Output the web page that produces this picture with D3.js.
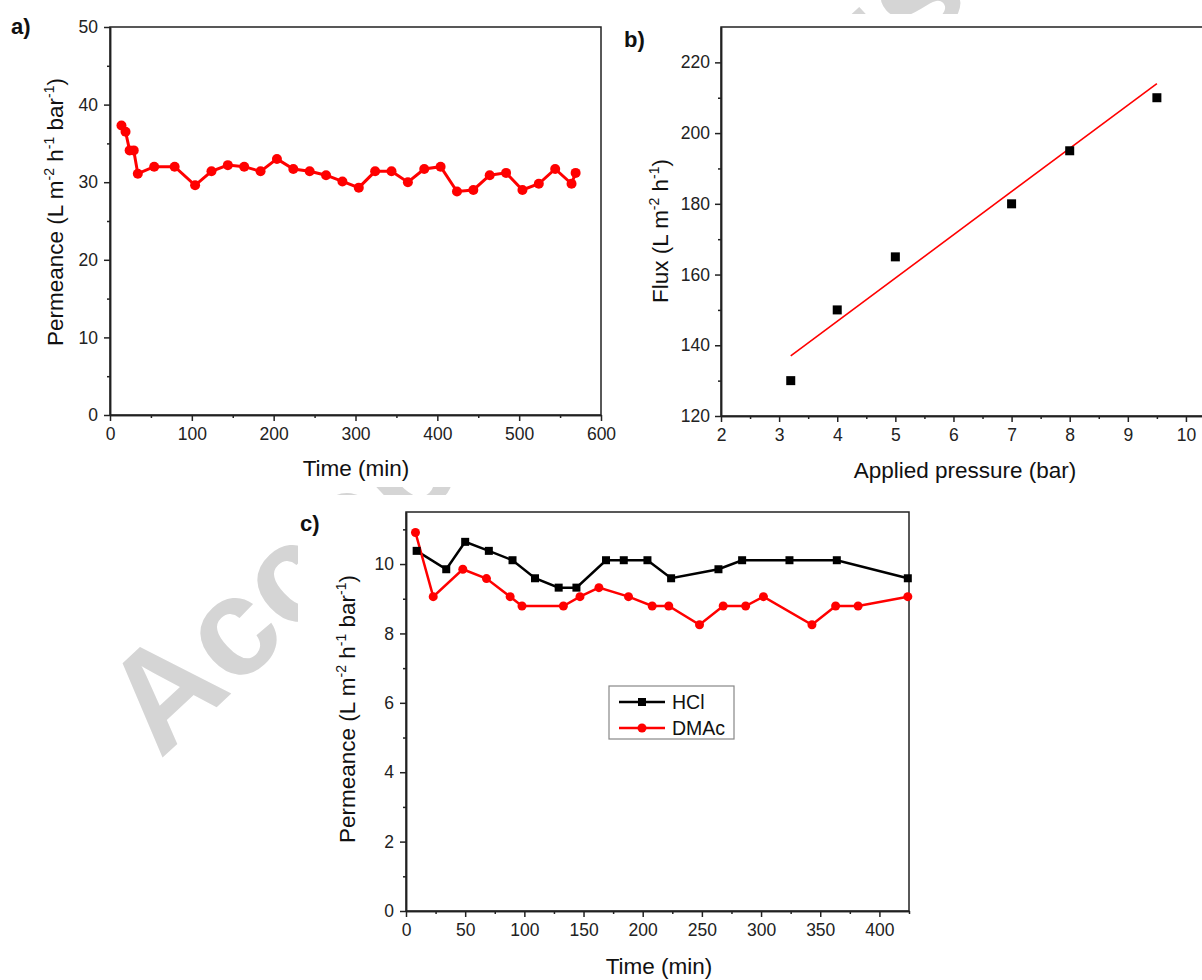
<!DOCTYPE html>
<html>
<head>
<meta charset="utf-8">
<script src="https://cdnjs.cloudflare.com/ajax/libs/d3/7.8.5/d3.min.js"></script>
<style>
  body { margin: 0; background: #fff; }
  svg { display: block; font-family: Arial, "Liberation Sans", sans-serif; }
  .axis path, .axis line { stroke: #222; stroke-width: 1.5; }
  .axis text { font-size: 17.5px; fill: #222; font-family: Arial, "Liberation Sans", sans-serif; }
</style>
</head>
<body>
<div></div>
<script>
//size of the whole picture
var width = 1202;
var height = 980;

//panel a: permeance over time
var timeA = [14, 19, 24, 29, 34, 54, 79, 104, 124, 144, 164, 184, 204, 224, 244, 264,
             284, 304, 324, 344, 364, 384, 404, 424, 444, 464, 484, 504, 524, 544, 564, 569];
var permA = [37.3, 36.5, 34.1, 34.1, 31.1, 32.0, 32.0, 29.6, 31.4, 32.2, 32.0, 31.4, 33.0, 31.7, 31.4, 30.9,
             30.1, 29.3, 31.4, 31.4, 30.0, 31.7, 32.0, 28.8, 29.0, 30.9, 31.2, 29.0, 29.8, 31.7, 29.8, 31.2];
var xTicksA = [0, 100, 200, 300, 400, 500, 600];
var yTicksA = [0, 10, 20, 30, 40, 50];

//panel b: flux against applied pressure, with its linear fit
var pressureB = [3.2, 4, 5, 7, 8, 9.5];
var fluxB = [130, 150, 165, 180, 195, 210];
var fitPressure = [3.2, 9.5];
var fitFlux = [137, 214];
var xTicksB = [2, 3, 4, 5, 6, 7, 8, 9, 10];
var yTicksB = [120, 140, 160, 180, 200, 220];

//panel c: permeance over time for two solvents
var timeHCl = [9, 34, 50, 70, 90, 109, 129, 144, 169, 184, 204, 224, 264, 284, 324, 364, 424];
var permHCl = [10.38, 9.85, 10.64, 10.38, 10.11, 9.59, 9.32, 9.32, 10.11, 10.11, 10.11, 9.59, 9.85, 10.11, 10.11, 10.11, 9.59];
var timeDMAc = [8, 23, 48, 68, 88, 98, 133, 147, 163, 188, 208, 222, 248, 268, 287, 302, 343, 363, 382, 424];
var permDMAc = [10.91, 9.06, 9.85, 9.58, 9.06, 8.79, 8.79, 9.06, 9.32, 9.06, 8.79, 8.79, 8.25, 8.79, 8.79, 9.06, 8.25, 8.79, 8.79, 9.06];
var legendNames = ["HCl", "DMAc"];
var xTicksC = [0, 50, 100, 150, 200, 250, 300, 350, 400];
var yTicksC = [0, 2, 4, 6, 8, 10];

var svg = d3.select("div")
            .append("svg")
            .attr("width", width)
            .attr("height", height);

svg.append("rect").attr("width", width).attr("height", height).attr("fill", "#fff");

//the grey watermark, mostly hidden behind the panels
svg.append("text")
   .text("Accepted Manuscript")
   .attr("transform", "translate(160,760) rotate(-43)")
   .style("font-size", "140px")
   .style("font-weight", "bold")
   .style("fill", "#d5d5d5");

//white backgrounds of the three panels
svg.append("rect").attr("x", 0).attr("y", 0).attr("width", 612).attr("height", 487).attr("fill", "#fff");
svg.append("rect").attr("x", 606).attr("y", 14).attr("width", 600).attr("height", 476).attr("fill", "#fff");
svg.append("rect").attr("x", 298).attr("y", 495).attr("width", 640).attr("height", 490).attr("fill", "#fff");

//zip two arrays into points
function pairs(xs, ys) {
  return xs.map(function(x, i) { return {x: x, y: ys[i]}; });
}

//minor ticks halfway between the major ones
function halfway(ticks) {
  var out = [];
  for (var i = 0; i < ticks.length - 1; ++i) out.push((ticks[i] + ticks[i + 1]) / 2);
  return out;
}

//axes with major and minor ticks plus the box
function drawAxes(xScale, yScale, xTicks, yTicks, xMinor, yMinor, yPad) {
  var x0 = xScale.range()[0], x1 = xScale.range()[1];
  var y0 = yScale.range()[0], y1 = yScale.range()[1];

  svg.append("g").attr("class", "axis")
     .attr("transform", "translate(0," + y0 + ")")
     .call(d3.axisBottom(xScale).tickValues(xMinor).tickSize(3).tickSizeOuter(0).tickFormat(""));
  svg.append("g").attr("class", "axis")
     .attr("transform", "translate(" + x0 + ",0)")
     .call(d3.axisLeft(yScale).tickValues(yMinor).tickSize(3).tickSizeOuter(0).tickFormat(""));

  svg.append("g").attr("class", "axis")
     .attr("transform", "translate(0," + y0 + ")")
     .call(d3.axisBottom(xScale).tickValues(xTicks).tickSize(6).tickSizeOuter(0).tickPadding(7));
  svg.append("g").attr("class", "axis")
     .attr("transform", "translate(" + x0 + ",0)")
     .call(d3.axisLeft(yScale).tickValues(yTicks).tickSize(6).tickSizeOuter(0).tickPadding(yPad));

  svg.append("rect")
     .attr("x", x0).attr("y", y1)
     .attr("width", x1 - x0).attr("height", y0 - y1)
     .attr("fill", "none")
     .attr("stroke", "#222")
     .attr("stroke-width", 1.5);
}

//axis title, parts marked with ^ are superscripts
function addTitle(x, y, rotate, parts) {
  var t = svg.append("text")
             .attr("transform", "translate(" + x + "," + y + ")" + (rotate ? " rotate(-90)" : ""))
             .style("text-anchor", "middle")
             .style("font-size", "22.5px")
             .style("fill", "#111");
  var up = false;
  parts.forEach(function(p) {
    var sup = p.charAt(0) == "^";
    var s = t.append("tspan").text(sup ? p.slice(1) : p);
    if (sup) {
      s.attr("dy", -9).style("font-size", "14px");
      up = true;
    } else if (up) {
      s.attr("dy", 9);
      up = false;
    }
  });
}

function panelLabel(x, y, txt) {
  svg.append("text")
     .text(txt)
     .attr("x", x).attr("y", y)
     .style("font-size", "22px")
     .style("font-weight", "bold")
     .style("fill", "#111");
}

// ---------- panel a ----------
var xA = d3.scaleLinear().domain([0, 600]).range([110, 601]);
var yA = d3.scaleLinear().domain([0, 50]).range([415, 27]);
drawAxes(xA, yA, xTicksA, yTicksA, halfway(xTicksA), halfway(yTicksA), 6);

var lineA = d3.line().x(function(d) { return xA(d.x); }).y(function(d) { return yA(d.y); });
svg.append("path")
   .datum(pairs(timeA, permA))
   .attr("d", lineA)
   .attr("fill", "none")
   .attr("stroke", "#ff0000")
   .attr("stroke-width", 3);
svg.selectAll("circle.a")
   .data(pairs(timeA, permA))
   .enter()
   .append("circle")
   .attr("class", "a")
   .attr("cx", function(d) { return xA(d.x); })
   .attr("cy", function(d) { return yA(d.y); })
   .attr("r", 5)
   .attr("fill", "#ff0000");

addTitle(356, 476, false, ["Time (min)"]);
addTitle(63, 212, true, ["Permeance (L m", "^-2", " h", "^-1", " bar", "^-1", ")"]);
panelLabel(11, 34, "a)");

// ---------- panel b ----------
var xB = d3.scaleLinear().domain([2, 10.5]).range([721, 1215]);
var yB = d3.scaleLinear().domain([120, 230]).range([416, 27]);
drawAxes(xB, yB, xTicksB, yTicksB, halfway(xTicksB).concat([10.5]), halfway(yTicksB), 5);

svg.append("path")
   .datum(pairs(fitPressure, fitFlux))
   .attr("d", d3.line().x(function(d) { return xB(d.x); }).y(function(d) { return yB(d.y); }))
   .attr("fill", "none")
   .attr("stroke", "#ff0000")
   .attr("stroke-width", 1.6);
svg.selectAll("rect.b")
   .data(pairs(pressureB, fluxB))
   .enter()
   .append("rect")
   .attr("class", "b")
   .attr("x", function(d) { return xB(d.x) - 4.5; })
   .attr("y", function(d) { return yB(d.y) - 4.5; })
   .attr("width", 9).attr("height", 9)
   .attr("fill", "#000");

addTitle(965, 478, false, ["Applied pressure (bar)"]);
addTitle(668, 231, true, ["Flux (L m", "^-2", " h", "^-1", ")"]);
panelLabel(624, 47, "b)");

// ---------- panel c ----------
var xC = d3.scaleLinear().domain([0, 425]).range([406, 909]);
var yC = d3.scaleLinear().domain([0, 11.5]).range([911, 512]);
drawAxes(xC, yC, xTicksC, yTicksC, halfway(xTicksC).concat([425]), d3.range(1, 12, 2), 6);

var lineC = d3.line().x(function(d) { return xC(d.x); }).y(function(d) { return yC(d.y); });
var hcl = pairs(timeHCl, permHCl);
var dmac = pairs(timeDMAc, permDMAc);

svg.append("path").datum(hcl).attr("d", lineC)
   .attr("fill", "none").attr("stroke", "#000").attr("stroke-width", 2.5);
svg.append("path").datum(dmac).attr("d", lineC)
   .attr("fill", "none").attr("stroke", "#ff0000").attr("stroke-width", 2.5);

svg.selectAll("rect.hcl")
   .data(hcl)
   .enter()
   .append("rect")
   .attr("class", "hcl")
   .attr("x", function(d) { return xC(d.x) - 4; })
   .attr("y", function(d) { return yC(d.y) - 4; })
   .attr("width", 8).attr("height", 8)
   .attr("fill", "#000");
svg.selectAll("circle.dmac")
   .data(dmac)
   .enter()
   .append("circle")
   .attr("class", "dmac")
   .attr("cx", function(d) { return xC(d.x); })
   .attr("cy", function(d) { return yC(d.y); })
   .attr("r", 4.5)
   .attr("fill", "#ff0000");

//legend
var legend = svg.append("g").attr("transform", "translate(609,686)");
legend.append("rect")
      .attr("width", 125).attr("height", 53)
      .attr("fill", "#fff")
      .attr("stroke", "#888")
      .attr("stroke-width", 1.2);
var legendColors = ["#000", "#ff0000"];
legendNames.forEach(function(name, i) {
  var ly = 16 + i * 26;
  legend.append("line")
        .attr("x1", 10).attr("x2", 56).attr("y1", ly).attr("y2", ly)
        .attr("stroke", legendColors[i]).attr("stroke-width", 2.5);
  if (i == 0) {
    legend.append("rect").attr("x", 29).attr("y", ly - 4).attr("width", 8).attr("height", 8).attr("fill", "#000");
  } else {
    legend.append("circle").attr("cx", 33).attr("cy", ly).attr("r", 4.5).attr("fill", "#ff0000");
  }
  legend.append("text")
        .text(name)
        .attr("x", 63).attr("y", ly + 7)
        .style("font-size", "19.5px")
        .style("fill", "#111");
});

addTitle(659, 974, false, ["Time (min)"]);
addTitle(355, 709, true, ["Permeance (L m", "^-2", " h", "^-1", " bar", "^-1", ")"]);
panelLabel(300, 531, "c)");
</script>
</body>
</html>
